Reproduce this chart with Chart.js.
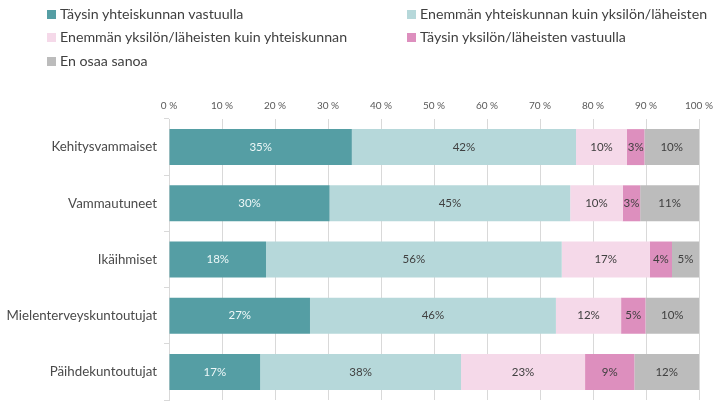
<!DOCTYPE html>
<html>
<head>
<meta charset="utf-8">
<script src="https://cdn.jsdelivr.net/npm/chart.js@4/dist/chart.umd.min.js"></script>
<style>
  html, body { margin: 0; padding: 0; background: #fff; }
  #wrap { position: relative; width: 720px; height: 419px; font-family: Lato, "Open Sans", sans-serif; }
  #c { position: absolute; left: 0; top: 0; }
  .lg { position: absolute; font-size: 14.2px; color: #404040; white-space: nowrap; line-height: 16px; }
  .lg i { display: inline-block; width: 9px; height: 9px; margin-right: 4px; vertical-align: 0px; }
</style>
</head>
<body>
<div id="wrap">
  <canvas id="c" width="720" height="419"></canvas>
  <div id="legend"></div>
</div>
<script>
const categories = ["Kehitysvammaiset", "Vammautuneet", "Ikäihmiset", "Mielenterveyskuntoutujat", "Päihdekuntoutujat"];
const seriesNames = [
  "Täysin yhteiskunnan vastuulla",
  "Enemmän yhteiskunnan kuin yksilön/läheisten",
  "Enemmän yksilön/läheisten kuin yhteiskunnan",
  "Täysin yksilön/läheisten vastuulla",
  "En osaa sanoa"
];
const fullySociety   = [34.5, 30.3, 18.3, 26.6, 17.2];
const moreSociety    = [42.3, 45.4, 55.8, 46.4, 37.9];
const moreIndividual = [9.6, 9.9, 16.6, 12.3, 23.4];
const fullyIndividual= [3.3, 3.3, 4.2, 4.6, 9.3];
const dontKnow       = [10.3, 11.1, 5.1, 10.1, 12.2];
const xTicks = [0, 10, 20, 30, 40, 50, 60, 70, 80, 90, 100];

const colors = ["#559ea4", "#b6d8da", "#f5d9e9", "#dd8fbe", "#bcbcbc"];
const labelColors = ["#eef8f8", "#404040", "#404040", "#404040", "#404040"];
const seriesValues = [fullySociety, moreSociety, moreIndividual, fullyIndividual, dontKnow];

// HTML legend
const legendPos = [[47, 6], [407, 6], [47, 29], [407, 29], [47, 53]];
const lgEl = document.getElementById('legend');
seriesNames.forEach((n, i) => {
  const d = document.createElement('div');
  d.className = 'lg';
  d.style.left = legendPos[i][0] + 'px';
  d.style.top = legendPos[i][1] + 'px';
  d.innerHTML = '<i style="background:' + colors[i] + '"></i>' + n;
  lgEl.appendChild(d);
});

const barLabels = {
  id: 'barLabels',
  afterDatasetsDraw(chart) {
    const ctx = chart.ctx;
    ctx.save();
    ctx.font = '11.5px Lato, "Open Sans", sans-serif';
    ctx.textAlign = 'center';
    ctx.textBaseline = 'middle';
    chart.data.datasets.forEach((ds, di) => {
      const meta = chart.getDatasetMeta(di);
      meta.data.forEach((bar, i) => {
        const v = ds.data[i];
        const cx = (bar.x + bar.base) / 2;
        ctx.fillStyle = labelColors[di];
        ctx.fillText(Math.round(v) + '%', cx, bar.y);
      });
    });
    ctx.restore();
  }
};

new Chart(document.getElementById('c'), {
  type: 'bar',
  data: {
    labels: categories,
    datasets: seriesValues.map((vals, i) => ({
      label: seriesNames[i],
      data: vals,
      backgroundColor: colors[i],
      borderWidth: 0,
      barPercentage: 0.8,
      categoryPercentage: 0.8
    }))
  },
  options: {
    indexAxis: 'y',
    responsive: false,
    animation: false,
    devicePixelRatio: 1,
    layout: { padding: { top: 93, right: 20, bottom: 19, left: 0 } },
    plugins: { legend: { display: false }, tooltip: { enabled: false } },
    scales: {
      x: {
        position: 'top',
        stacked: true,
        min: 0, max: 100,
        afterBuildTicks: (s) => { s.ticks = xTicks.map(v => ({ value: v })); },
        ticks: {
          callback: (v) => v + ' %',
          color: '#595959',
          font: { family: 'Lato, "Open Sans", sans-serif', size: 10 },
          padding: 7,
          maxRotation: 0
        },
        grid: { color: '#d9d9d9', drawTicks: false, lineWidth: 1 },
        border: { display: false }
      },
      y: {
        stacked: true,
        afterFit: (s) => { s.width = 169; },
        ticks: {
          color: '#4a4a4a',
          font: { family: 'Lato, "Open Sans", sans-serif', size: 13.3 },
          padding: 7
        },
        grid: { drawOnChartArea: false, color: '#d9d9d9', tickLength: 5 },
        border: { color: '#d9d9d9' }
      }
    }
  },
  plugins: [barLabels]
});
</script>
</body>
</html>
